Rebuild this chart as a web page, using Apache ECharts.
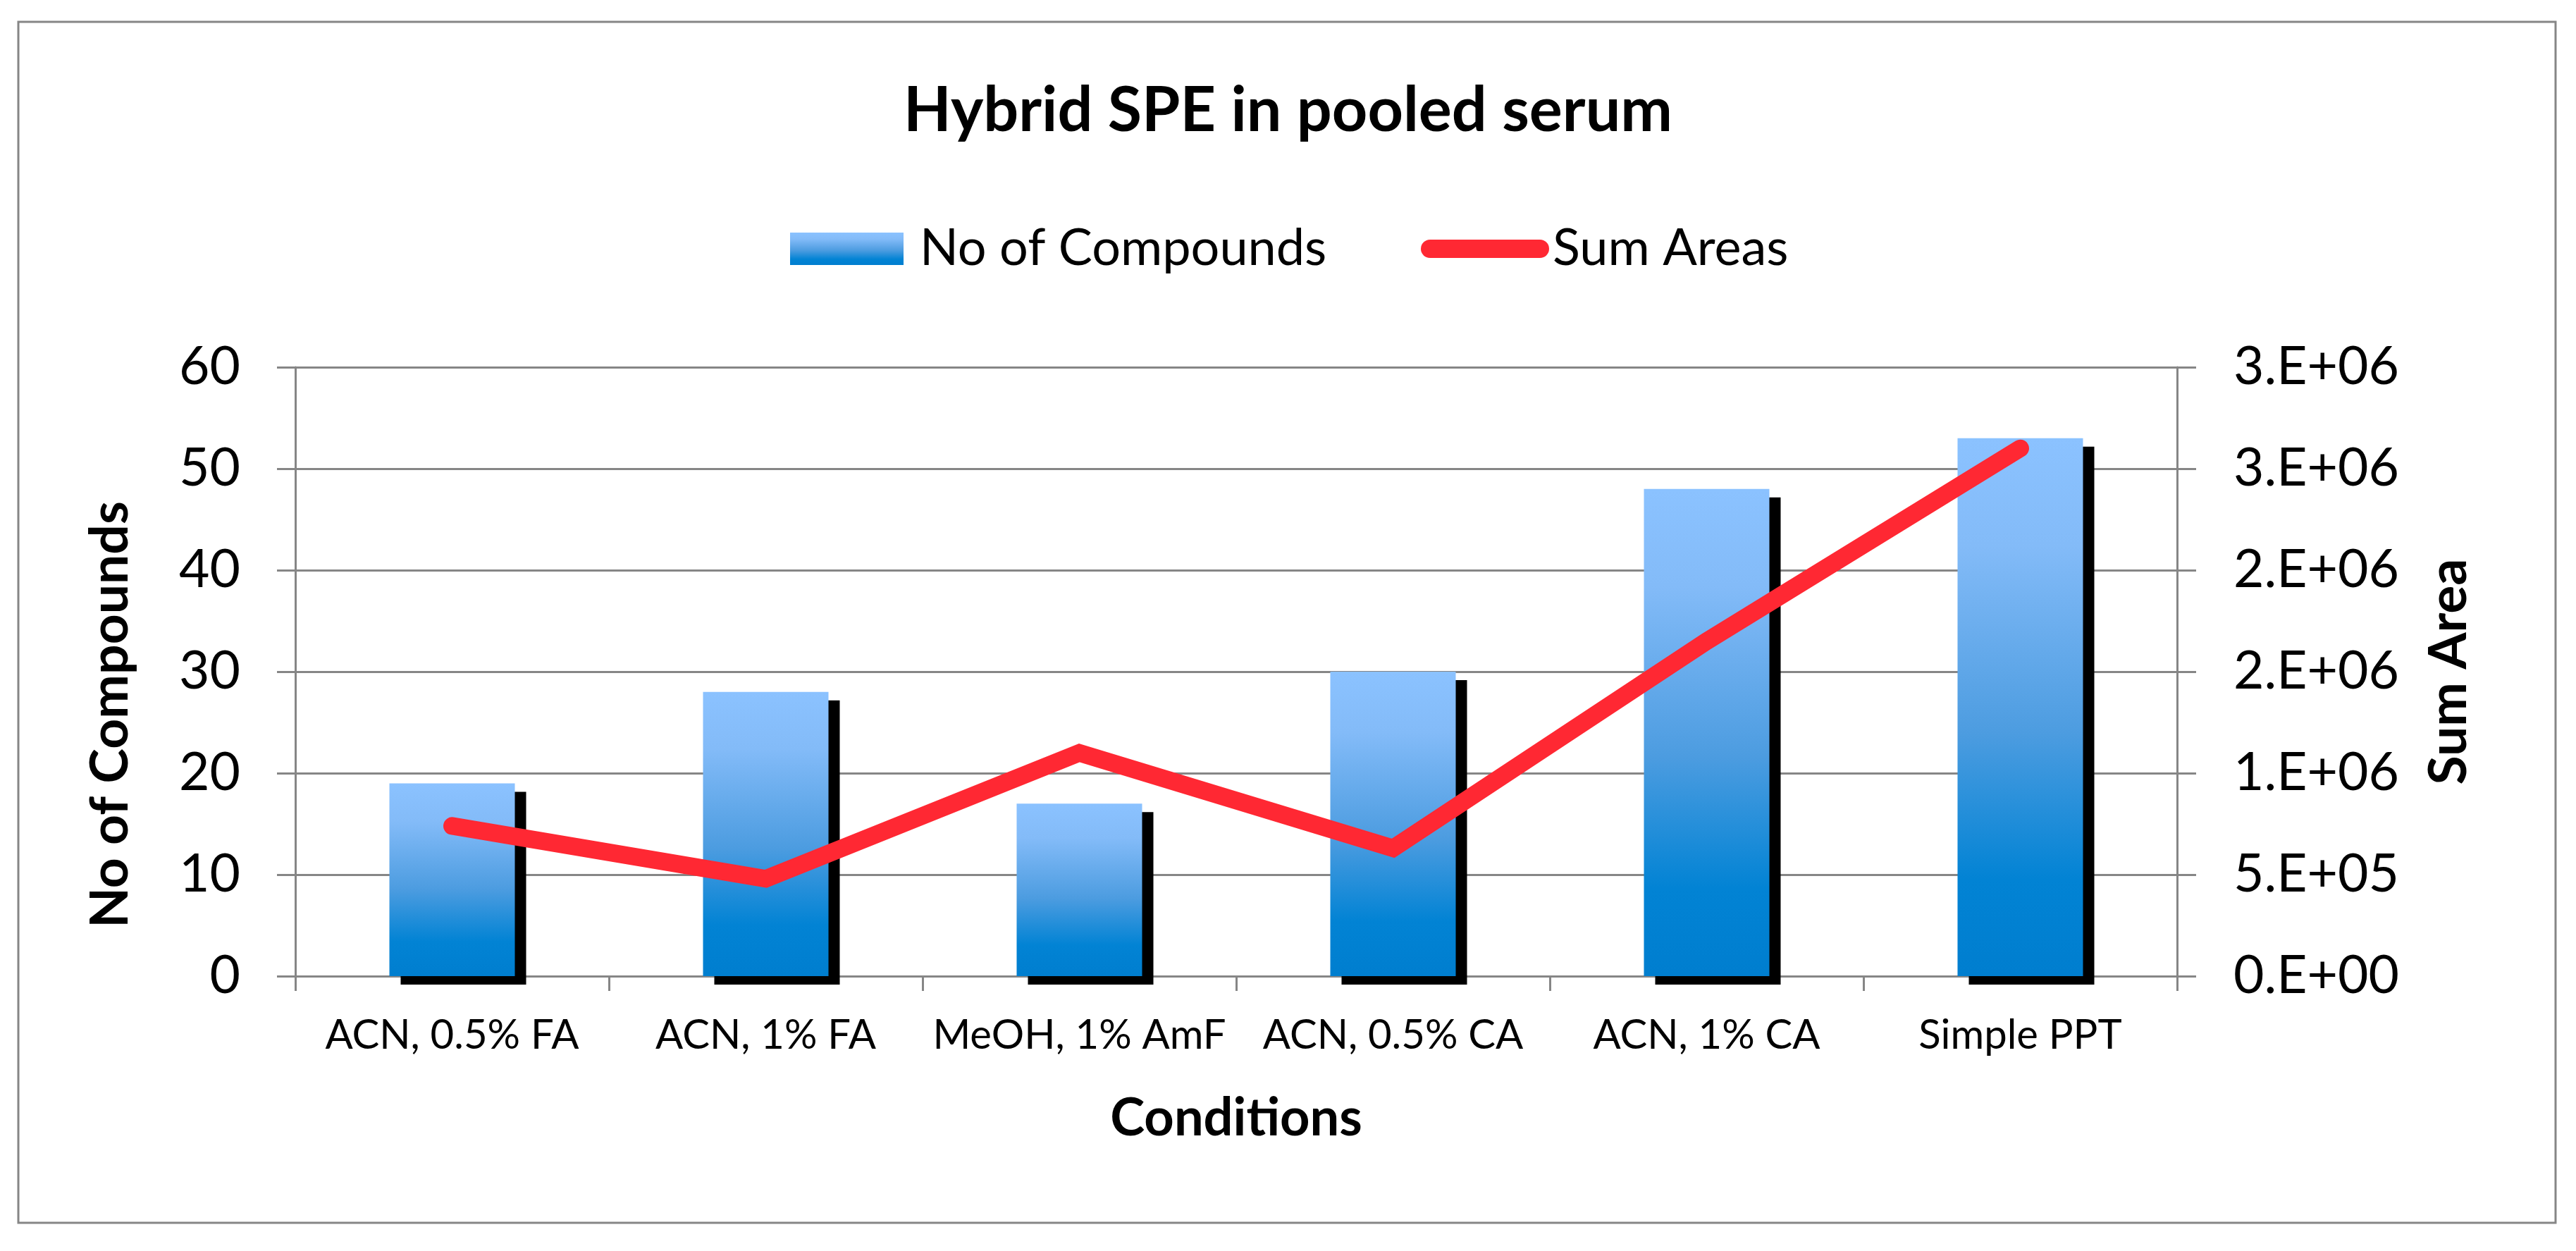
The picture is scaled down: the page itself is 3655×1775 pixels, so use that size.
<!DOCTYPE html>
<html><head><meta charset="utf-8">
<script src="https://cdn.jsdelivr.net/npm/echarts@6/dist/echarts.min.js"></script>
<style>html,body{margin:0;padding:0;background:#fff}#c{width:3655px;height:1775px}</style>
</head><body><div id="c"></div>
<script>
// ---- data ----
const categories = ['ACN, 0.5% FA', 'ACN, 1% FA', 'MeOH, 1% AmF', 'ACN, 0.5% CA', 'ACN, 1% CA', 'Simple PPT'];
const compounds = [19, 28, 17, 30, 48, 53];
const sumAreas = [740000, 480000, 1100000, 630000, 1650000, 2600000];
const leftTickStep = 10;
const rightTickStep = 500000;
const rightTickLabels = ['0.E+00', '5.E+05', '1.E+06', '2.E+06', '2.E+06', '3.E+06', '3.E+06'];

const FONT = 'Lato';
const GRAY = '#868686';
const barGradient = new echarts.graphic.LinearGradient(0, 0, 0, 1, [
  { offset: 0, color: '#8BC2FF' },
  { offset: 0.2, color: '#83BBF8' },
  { offset: 0.55, color: '#4C9CE0' },
  { offset: 0.82, color: '#0283D4' },
  { offset: 1, color: '#007ECF' }
]);

const chart = echarts.init(document.getElementById('c'), null, { renderer: 'canvas' });
chart.setOption({
  animation: false,
  backgroundColor: '#fff',
  textStyle: { fontFamily: FONT, color: '#000' },
  title: {
    text: 'Hybrid SPE in pooled serum',
    left: 'center',
    top: 114,
    padding: 0,
    textStyle: { fontFamily: FONT, fontSize: 88, fontWeight: 'bold', color: '#000', lineHeight: 88 }
  },
  legend: [
    {
      data: [{ name: 'No of Compounds', icon: 'rect' }],
      left: 1121, top: 317, padding: 0,
      itemWidth: 161, itemHeight: 46,
      itemStyle: { borderWidth: 0 },
      textStyle: { fontFamily: FONT, fontSize: 72, lineHeight: 72, color: '#000', padding: [0, 0, 0, 18] }
    },
    {
      data: [{ name: 'Sum Areas', icon: 'path://M13,0 L169,0 A13,13 0 0 1 169,26 L13,26 A13,13 0 0 1 13,0 Z' }],
      left: 2016, top: 317, padding: 0,
      itemWidth: 182, itemHeight: 26,
      itemStyle: { borderWidth: 0 },
      textStyle: { fontFamily: FONT, fontSize: 72, lineHeight: 72, color: '#000' }
    }
  ],
  grid: { left: 419, right: 566, top: 521, bottom: 390, containLabel: false, outerBoundsMode: 'none' },
  xAxis: {
    type: 'category',
    data: categories,
    boundaryGap: true,
    axisLine: { show: true, lineStyle: { color: GRAY, width: 3 } },
    axisTick: { show: true, interval: 0, length: 21, lineStyle: { color: GRAY, width: 3 } },
    axisLabel: { interval: 0, fontFamily: FONT, fontSize: 58, lineHeight: 58, color: '#000', margin: 55 },
    name: 'Conditions',
    nameLocation: 'middle',
    nameGap: 165,
    nameTextStyle: { fontFamily: FONT, fontSize: 74, lineHeight: 74, fontWeight: 'bold', color: '#000' }
  },
  yAxis: [
    {
      type: 'value', min: 0, max: 60, interval: leftTickStep, position: 'left',
      axisLine: { show: true, lineStyle: { color: GRAY, width: 3 } },
      axisTick: { show: true, length: 26, lineStyle: { color: GRAY, width: 3 } },
      axisLabel: { fontFamily: FONT, fontSize: 75, lineHeight: 75, color: '#000', margin: 78 },
      splitLine: { show: true, lineStyle: { color: GRAY, width: 3 } },
      name: 'No of Compounds',
      nameLocation: 'middle',
      nameRotate: 90,
      nameGap: 225,
      nameTextStyle: { fontFamily: FONT, fontSize: 75, lineHeight: 75, fontWeight: 'bold', color: '#000', padding: [0, 122, 0, 0] }
    },
    {
      type: 'value', min: 0, max: 3000000, interval: rightTickStep, position: 'right',
      axisLine: { show: true, lineStyle: { color: GRAY, width: 3 } },
      axisTick: { show: true, length: 27, lineStyle: { color: GRAY, width: 3 } },
      axisLabel: {
        fontFamily: FONT, fontSize: 75, lineHeight: 75, color: '#000', margin: 80,
        formatter: v => rightTickLabels[Math.round(v / rightTickStep)]
      },
      splitLine: { show: false },
      name: 'Sum Area',
      nameLocation: 'middle',
      nameRotate: 90,
      nameGap: 348,
      nameTextStyle: { fontFamily: FONT, fontSize: 75, lineHeight: 75, fontWeight: 'bold', color: '#000' }
    }
  ],
  series: [
    {
      name: 'No of Compounds',
      type: 'bar',
      data: compounds,
      barWidth: '40%',
      itemStyle: {
        color: barGradient,
        shadowColor: '#000', shadowBlur: 0, shadowOffsetX: 16, shadowOffsetY: 12
      },
      z: 2
    },
    {
      name: 'Sum Areas',
      type: 'line',
      yAxisIndex: 1,
      data: sumAreas,
      symbol: 'none',
      lineStyle: { color: '#FF2833', width: 25, cap: 'round', join: 'miter' },
      itemStyle: { color: '#FF2833' },
      z: 3
    }
  ],
  graphic: [
    {
      type: 'rect', silent: true, z: 100,
      shape: { x: 26, y: 31, width: 3600, height: 1704 },
      style: { fill: 'none', stroke: GRAY, lineWidth: 3 }
    }
  ]
});
</script>
</body></html>
